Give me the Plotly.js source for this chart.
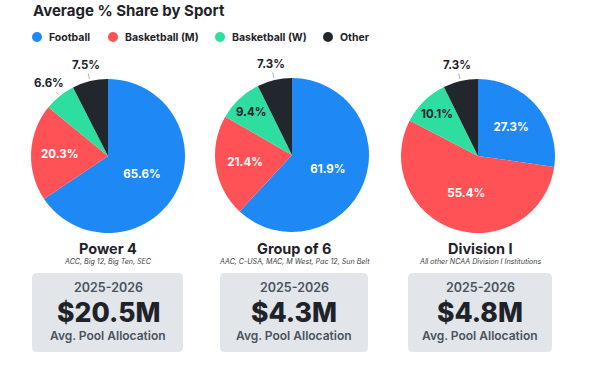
<!DOCTYPE html>
<html><head><meta charset="utf-8">
<script src="https://cdn.plot.ly/plotly-3.0.1.min.js"></script>
<style>html,body{margin:0;padding:0;background:#fff}#chart{width:605px;height:377px}</style>
</head><body><div id="chart"></div>
<script>
// ---- data ----
const categories = ["Football", "Basketball (M)", "Basketball (W)", "Other"];
const colors = ["#1E88F5", "#FF5257", "#2EDDA0", "#22272E"];
const groups = ["Power 4", "Group of 6", "Division I"];
const subtitles = ["ACC, Big 12, Big Ten, SEC", "AAC, C-USA, MAC, M West, Pac 12, Sun Belt", "All other NCAA Division I Institutions"];
const power4 = [65.6, 20.3, 6.6, 7.5];
const groupOf6 = [61.9, 21.4, 9.4, 7.3];
const division1 = [27.3, 55.4, 10.1, 7.3];
const seasons = ["2025-2026", "2025-2026", "2025-2026"];
const poolAllocation = ["$20.5M", "$4.3M", "$4.8M"];
const poolLabel = "Avg. Pool Allocation";

// ---- layout helpers (pixel -> paper) ----
const W = 605, H = 377;
const px = x => x / W, py = y => 1 - y / H;
const FONT = "Inter, 'Noto Sans', sans-serif";
const DARK = "#1F2329";

const pieCenters = [[108, 156], [292, 155], [478, 156]];
const R = 77;
const textCenters = [108, 294, 480];
const boxes = [[32, 183], [220, 368], [408, 552]];
const series = [power4, groupOf6, division1];
// which slices carry their label outside (with a leader line)
const outside = [
  [false, false, true, true],
  [false, false, false, true],
  [false, false, false, true]
];

const traces = series.map((vals, i) => ({
  type: "pie",
  values: vals,
  labels: categories,
  sort: false,
  direction: "clockwise",
  rotation: 0,
  marker: {colors: colors, line: {width: 0}},
  texttemplate: vals.map((v, k) => outside[i][k] ? "" : "%{value:.1f}%"),
  textposition: vals.map((v, k) => outside[i][k] ? "none" : "inside"),
  insidetextorientation: "horizontal",
  insidetextfont: {family: FONT, size: 11.5, weight: 700, color: ["#FFFFFF", "#FFFFFF", DARK, "#FFFFFF"]},
  hoverinfo: "label+value",
  showlegend: false,
  domain: {
    x: [px(pieCenters[i][0] - R), px(pieCenters[i][0] + R)],
    y: [py(pieCenters[i][1] + R), py(pieCenters[i][1] - R)]
  }
}));

const shapes = [];
const annotations = [];

// outside labels with leader lines, placed at each slice's mid-angle
series.forEach((vals, i) => {
  const total = vals.reduce((a, b) => a + b, 0);
  let cum = 0;
  vals.forEach((v, k) => {
    const mid = (cum + v / 2) / total * 2 * Math.PI;
    cum += v;
    if (!outside[i][k]) return;
    const [cx, cy] = pieCenters[i];
    const sx = Math.sin(mid), sy = -Math.cos(mid);
    annotations.push({
      xref: "paper", yref: "paper",
      x: px(cx + (R + 1) * sx), y: py(cy + (R + 1) * sy),
      axref: "pixel", ayref: "pixel",
      ax: 15.5 * sx, ay: 15.5 * sy,
      text: v.toFixed(1) + "%",
      showarrow: true, arrowhead: 0, arrowwidth: 1, arrowcolor: "#AEB3B9", standoff: 1,
      font: {family: FONT, size: 11.5, weight: 700, color: DARK}
    });
  });
});

// title
annotations.push({xref: "paper", yref: "paper", x: px(31), y: py(11), xanchor: "left", yanchor: "middle",
  text: "Average % Share by Sport", showarrow: false, font: {family: FONT, size: 15, weight: 700, color: DARK}});

// legend (manual, circle markers)
const legendX = [37, 113, 220, 328];
categories.forEach((c, i) => {
  const cx = legendX[i], cy = 37, r = 5;
  shapes.push({type: "circle", xref: "paper", yref: "paper", x0: px(cx - r), x1: px(cx + r), y0: py(cy + r), y1: py(cy - r),
    fillcolor: colors[i], line: {width: 0}});
  annotations.push({xref: "paper", yref: "paper", x: px(cx + 10), y: py(cy), xanchor: "left", yanchor: "middle",
    text: c, showarrow: false, font: {family: FONT, size: 10.5, weight: 700, color: DARK}});
});

// rounded rect helper
function roundRect(x0, y0, x1, y1, r) {
  const P = (x, y) => px(x) + "," + py(y);
  return "M" + P(x0 + r, y0) + " L" + P(x1 - r, y0) + " Q" + P(x1, y0) + " " + P(x1, y0 + r) +
    " L" + P(x1, y1 - r) + " Q" + P(x1, y1) + " " + P(x1 - r, y1) +
    " L" + P(x0 + r, y1) + " Q" + P(x0, y1) + " " + P(x0, y1 - r) +
    " L" + P(x0, y0 + r) + " Q" + P(x0, y0) + " " + P(x0 + r, y0) + " Z";
}

groups.forEach((g, i) => {
  const cx = textCenters[i];
  annotations.push({xref: "paper", yref: "paper", x: px(cx), y: py(248), xanchor: "center", yanchor: "middle",
    text: g, showarrow: false, font: {family: FONT, size: 14.5, weight: 700, color: DARK}});
  annotations.push({xref: "paper", yref: "paper", x: px(cx), y: py(261), xanchor: "center", yanchor: "middle",
    text: "<i>" + subtitles[i] + "</i>", showarrow: false, font: {family: FONT, size: 7.1, color: "#3A3F45"}});
  const [bx0, bx1] = boxes[i];
  shapes.push({type: "path", xref: "paper", yref: "paper", path: roundRect(bx0, 273, bx1, 352, 5),
    fillcolor: "#E2E6EA", line: {width: 0}, layer: "below"});
  annotations.push({xref: "paper", yref: "paper", x: px(cx), y: py(287), xanchor: "center", yanchor: "middle",
    text: seasons[i], showarrow: false, font: {family: FONT, size: 12.5, weight: 600, color: "#4A5260"}});
  annotations.push({xref: "paper", yref: "paper", x: px(cx), y: py(312), xanchor: "center", yanchor: "middle",
    text: poolAllocation[i], showarrow: false, font: {family: FONT, size: 26.5, weight: 800, color: DARK}});
  annotations.push({xref: "paper", yref: "paper", x: px(cx), y: py(335), xanchor: "center", yanchor: "middle",
    text: poolLabel, showarrow: false, font: {family: FONT, size: 12, weight: 600, color: "#4A5260"}});
});

const layout = {
  width: W, height: H,
  margin: {l: 0, r: 0, t: 0, b: 0},
  paper_bgcolor: "#FFFFFF",
  plot_bgcolor: "#FFFFFF",
  showlegend: false,
  shapes: shapes,
  annotations: annotations,
  font: {family: FONT}
};

Plotly.newPlot("chart", traces, layout, {displayModeBar: false, staticPlot: true});
</script></body></html>
